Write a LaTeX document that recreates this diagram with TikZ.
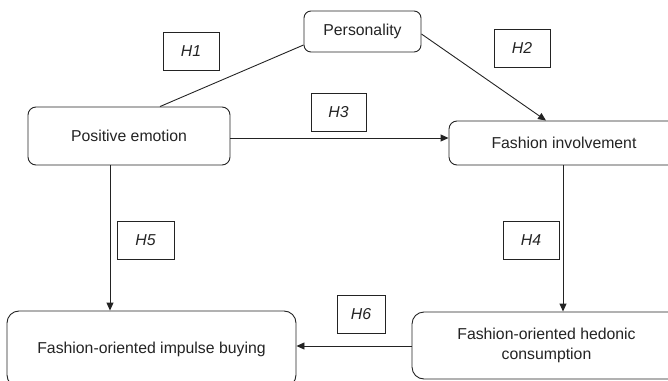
\documentclass[tikz,border=0pt]{standalone}
\usepackage{fontspec}
\setmainfont{Liberation Sans}
\usetikzlibrary{arrows.meta,calc}
\definecolor{ink}{RGB}{35,35,35}
\tikzset{
  x=1pt,y=1pt,
  every node/.style={text=ink},
  varbox/.style={draw=ink,line width=0.9pt,rounded corners=#1,inner sep=0pt,align=center,
    font=\fontsize{15.8}{20}\selectfont},
  varbox/.default=7pt,
  hbox/.style={draw=ink,line width=0.8pt,inner sep=0pt,minimum height=38pt,
    font=\fontsize{15.8}{19}\selectfont\itshape},
  link/.style={draw=ink,line width=0.9pt},
  arr/.style={link,-{Triangle[length=8pt,width=7pt]}}
}
\begin{document}
\begin{tikzpicture}
\clip (0,0) rectangle (668,380);
% variable boxes (centre x, 380 - centre y)
\node[varbox, minimum width=117pt, minimum height=41pt] (pers) at (362.5,348.5) {Personality};
\node[varbox=8pt, minimum width=202pt, minimum height=58pt] (pos) at (129,244) {Positive emotion};
\node[varbox=8pt, minimum width=230pt, minimum height=44pt] (inv) at (564,237) {Fashion involvement};
\node[varbox=12pt, minimum width=269pt, minimum height=67pt] (hed) at (546.5,34.5) {Fashion-oriented hedonic\\consumption};
\node[varbox=12pt, minimum width=289pt, minimum height=76pt] (imp) at (151.5,31) {Fashion-oriented impulse buying};
% hypothesis labels
\node[hbox, minimum width=56pt] (h1) at (191,329) {H1};
\node[hbox, minimum width=56pt] (h2) at (522,332) {H2};
\node[hbox, minimum width=55pt] (h3) at (338.5,268) {H3};
\node[hbox, minimum width=56pt] (h4) at (531,140) {H4};
\node[hbox, minimum width=57pt] (h5) at (145.5,140) {H5};
\node[hbox, minimum width=48pt] (h6) at (361,66) {H6};
% connectors
\draw[link] ([xshift=31pt]pos.north) -- ([yshift=-13.5pt]pers.west);
\draw[arr] ([yshift=-2.5pt]pers.east) -- ([xshift=-18pt]inv.north);
\draw[arr] ([yshift=-2pt]pos.east) -- ([yshift=5pt]inv.west);
\draw[arr] ([xshift=-1pt]inv.south) -- ([xshift=-1pt]inv.south |- hed.north);
\draw[arr] ([xshift=-19pt]pos.south) -- ([xshift=-19pt]pos.south |- imp.north);
\draw[arr] ([yshift=-0.5pt]hed.west) -- ([yshift=-0.5pt]hed.west -| imp.east);
\end{tikzpicture}
\end{document}
